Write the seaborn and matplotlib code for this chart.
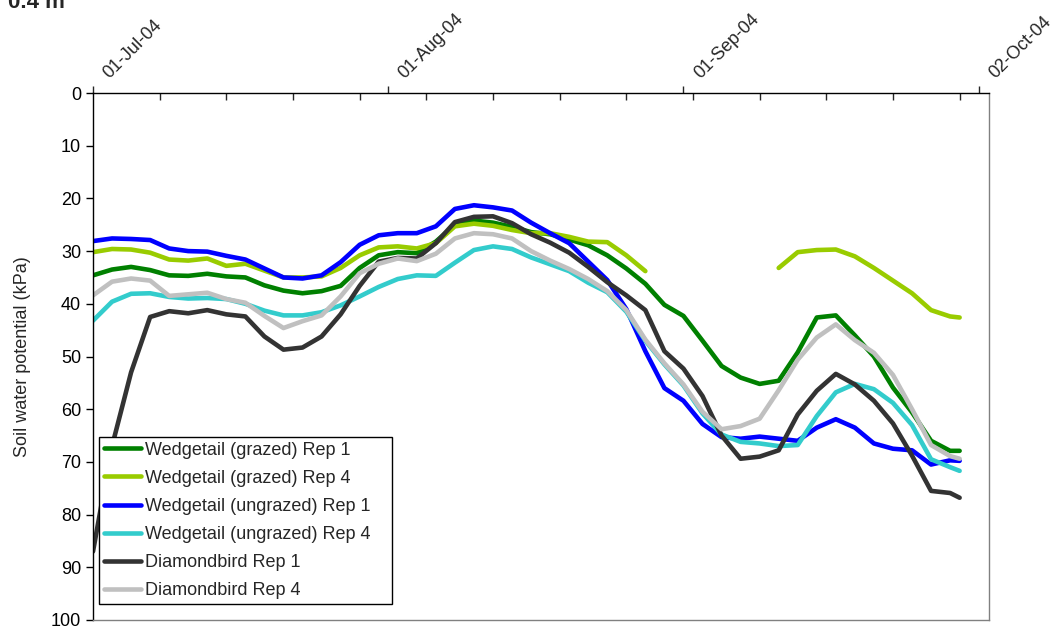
import numpy as np
import pandas as pd
import matplotlib
matplotlib.use("Agg")
import matplotlib.pyplot as plt
import matplotlib.dates as mdates
import seaborn as sns

# ---- data (soil water potential, kPa, at 0.4 m) ----
start = "2004-07-01"
days = [0, 2, 4, 6, 8, 10, 12, 14, 16, 18, 20, 22, 24, 26, 28, 30, 32, 34, 36, 38,
        40, 42, 44, 46, 48, 50, 52, 54, 56, 58, 60, 62, 64, 66, 68, 70, 72, 74, 76, 78,
        80, 82, 84, 86, 88, 90, 91]

wedge_grazed_rep1 = [34.6, 33.5, 33.0, 33.6, 34.6, 34.7, 34.3, 34.8, 35.0, 36.5,
                     37.5, 38.0, 37.6, 36.6, 33.2, 30.8, 30.2, 30.4, 28.2, 25.0,
                     24.2, 24.6, 25.4, 26.4, 26.8, 27.8, 28.9, 30.8, 33.3, 36.2,
                     40.2, 42.3, 47.0, 51.8, 54.0, 55.2, 54.6, 49.2, 42.6, 42.2,
                     46.0, 50.0, 55.9, 60.6, 66.0, 67.9, 67.9]
wedge_grazed_rep4 = [30.2, 29.6, 29.7, 30.3, 31.6, 31.8, 31.4, 32.8, 32.4, 33.7,
                     35.0, 35.0, 34.8, 33.2, 30.8, 29.3, 29.1, 29.5, 28.5, 25.3,
                     24.8, 25.2, 26.0, 26.6, 26.6, 27.3, 28.2, 28.3, 30.8, 33.8,
                     np.nan, np.nan, np.nan, np.nan, np.nan, np.nan,
                     33.2, 30.2, 29.8, 29.7, 31.0, 33.2, 35.6, 38.0, 41.2, 42.4, 42.6]
wedge_ungrazed_rep1 = [28.1, 27.6, 27.7, 27.9, 29.5, 30.0, 30.1, 30.9, 31.6, 33.3,
                       35.0, 35.2, 34.6, 32.1, 28.8, 27.0, 26.6, 26.6, 25.3, 22.0,
                       21.3, 21.7, 22.3, 24.6, 26.6, 28.5, 32.0, 35.5, 41.0, 49.0,
                       56.0, 58.4, 62.8, 65.3, 65.6, 65.2, 65.6, 66.0, 63.5, 61.9,
                       63.5, 66.5, 67.5, 67.8, 70.5, 69.7, 69.8]
wedge_ungrazed_rep4 = [43.2, 39.6, 38.1, 38.0, 38.7, 39.0, 38.9, 39.1, 40.0, 41.3,
                       42.2, 42.2, 41.6, 40.3, 38.6, 36.8, 35.3, 34.6, 34.7, 32.2,
                       29.8, 29.1, 29.6, 31.2, 32.5, 33.8, 36.0, 37.8, 41.5, 47.0,
                       51.5, 55.5, 60.8, 64.8, 66.2, 66.5, 67.0, 66.8, 61.3, 56.8,
                       55.2, 56.2, 58.8, 63.0, 69.5, 71.0, 71.7]
diamond_rep1 = [87.0, 67.0, 53.0, 42.5, 41.4, 41.8, 41.2, 42.0, 42.4, 46.2,
                48.7, 48.3, 46.2, 42.0, 36.6, 32.0, 31.3, 31.4, 28.5, 24.5,
                23.5, 23.4, 24.7, 26.8, 28.4, 30.3, 33.0, 35.9, 38.4, 41.2,
                49.0, 52.3, 57.5, 65.0, 69.4, 69.0, 67.8, 61.0, 56.5, 53.3,
                55.3, 58.4, 62.7, 68.8, 75.5, 75.9, 76.8]
diamond_rep4 = [38.4, 35.8, 35.2, 35.6, 38.5, 38.2, 37.9, 39.1, 39.8, 42.3,
                44.6, 43.3, 42.2, 38.6, 34.2, 32.4, 31.4, 31.9, 30.5, 27.6,
                26.6, 26.8, 27.6, 30.0, 31.8, 33.4, 35.3, 37.6, 41.2, 46.8,
                51.3, 55.3, 60.5, 63.8, 63.2, 61.8, 56.4, 50.6, 46.4, 43.9,
                46.9, 49.3, 53.5, 60.0, 66.8, 68.9, 69.4]

names = ["Wedgetail (grazed) Rep 1", "Wedgetail (grazed) Rep 4",
         "Wedgetail (ungrazed) Rep 1", "Wedgetail (ungrazed) Rep 4",
         "Diamondbird Rep 1", "Diamondbird Rep 4"]
values = [wedge_grazed_rep1, wedge_grazed_rep4, wedge_ungrazed_rep1,
          wedge_ungrazed_rep4, diamond_rep1, diamond_rep4]
colours = ["#008000", "#99CC00", "#0000FF", "#33CCCC", "#333333", "#C0C0C0"]

major_dates = ["2004-07-01", "2004-08-01", "2004-09-01", "2004-10-02"]
major_labels = ["01-Jul-04", "01-Aug-04", "01-Sep-04", "02-Oct-04"]

# ---- long table; gaps split a series into separate segments ----
dates = pd.Timestamp(start) + pd.to_timedelta(days, unit="D")
frames = []
for name, vals in zip(names, values):
    v = np.asarray(vals, dtype=float)
    frames.append(pd.DataFrame({"date": dates, "kPa": v, "series": name,
                                "seg": np.cumsum(np.isnan(v))}))
df = pd.concat(frames).dropna()

sns.set_theme(style="ticks")
plt.rcParams["font.family"] = ["Liberation Sans", "DejaVu Sans"]

fig = plt.figure(figsize=(10.56, 6.27), dpi=100)
ax = fig.add_axes([93 / 1056, 1 - 620 / 627, 896 / 1056, 527 / 627])

sns.lineplot(data=df, x="date", y="kPa", hue="series", units="seg", estimator=None,
             hue_order=names, palette=colours, lw=3.3, ax=ax)

# axes
ax.set_ylim(100, 0)
ax.set_yticks(range(0, 101, 10))
ax.set_xlim(pd.Timestamp("2004-07-01"), pd.Timestamp("2004-10-03 02:00"))
ax.xaxis.tick_top()
ax.set_xticks(pd.to_datetime(major_dates))
ax.set_xticklabels([])
ax.xaxis.set_minor_locator(mdates.WeekdayLocator(byweekday=mdates.TH))
ax.tick_params(axis="x", which="major", direction="out", length=5, width=1)
ax.tick_params(axis="x", which="minor", direction="in", length=5, width=1,
               top=True, bottom=False)
ax.tick_params(axis="y", direction="out", length=5, width=1, labelsize=13,
               colors="black")
ax.set_xlabel("")
ax.set_ylabel("Soil water potential (kPa)", fontsize=13, labelpad=14)

# rotated date labels, sitting just right of each monthly tick
for d, lab in zip(pd.to_datetime(major_dates), major_labels):
    ax.annotate(lab, xy=(mdates.date2num(d), 1), xycoords=ax.get_xaxis_transform(),
                xytext=(12, 10), textcoords="offset points", rotation=45,
                ha="left", va="baseline", rotation_mode="anchor", fontsize=13,
                annotation_clip=False)

for side in ["top", "left", "right", "bottom"]:
    ax.spines[side].set_visible(True)
ax.spines["top"].set_color("black")
ax.spines["left"].set_color("black")
ax.spines["right"].set_color("#808080")
ax.spines["bottom"].set_color("#808080")
for s in ax.spines.values():
    s.set_linewidth(1)

handles, labels = ax.get_legend_handles_labels()
ax.get_legend().remove()
leg = ax.legend(handles, labels, loc="lower left",
                bbox_to_anchor=(6 / 896, 16 / 527, 293 / 896, 0.2), mode="expand",
                fontsize=13, frameon=True, fancybox=False, framealpha=1,
                edgecolor="black", borderpad=0.25, labelspacing=0.62,
                handlelength=2.1, handletextpad=0.2, borderaxespad=0)
leg.get_frame().set_linewidth(1)
for h in leg.get_lines():
    h.set_linewidth(3.3)

fig.text(8 / 1056, 1 - 8 / 627, "0.4 m", fontsize=16, fontweight="bold",
         ha="left", va="baseline")

fig.savefig("out.png", dpi=100)
